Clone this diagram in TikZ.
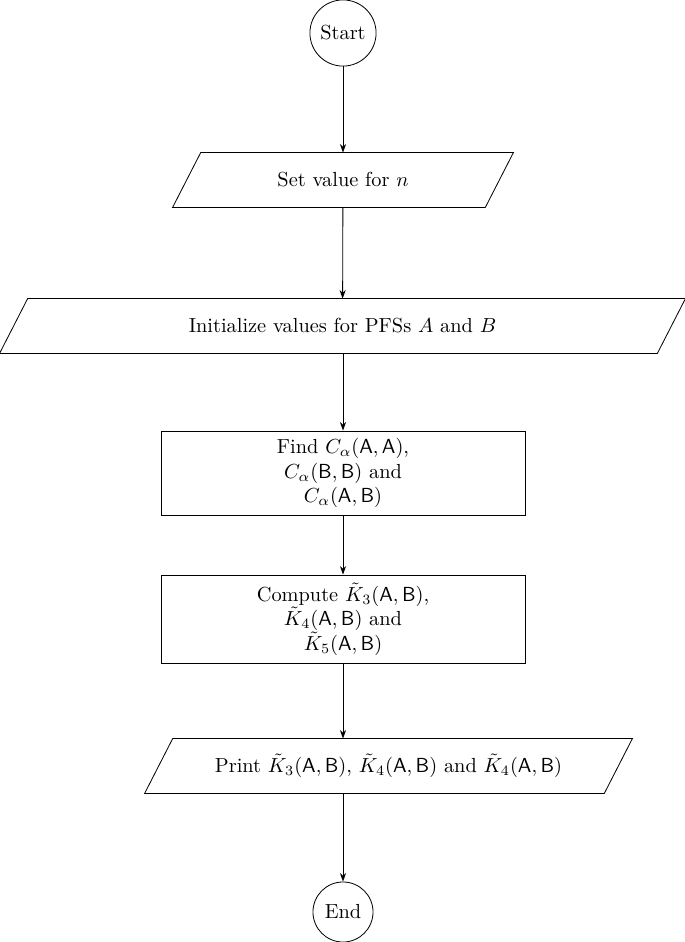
\documentclass[tikz,border=0pt]{standalone}
\usetikzlibrary{arrows.meta}
\newcommand\drawpara[1]{\draw ([xshift=13.8pt]#1.north west) -- (#1.north east) -- ([xshift=-13.8pt]#1.south east) -- (#1.south west) -- cycle;}
\begin{document}
\begin{tikzpicture}[x=0.4912pt,y=-0.4912pt,
  term/.style={draw,circle,inner sep=0pt,align=center},
  io/.style={rectangle,minimum height=26.55pt,inner sep=0pt,align=center},
  proc/.style={draw,rectangle,minimum width=178.8pt,inner sep=0pt,align=center},
  conn/.style={-{Stealth[length=4.2pt,width=3pt]}}]
\useasboundingbox (0,0) rectangle (685,942);
\node[term,minimum size=32.5pt] (start) at (343,33) {Start};
\node[io,minimum width=167pt] (setn) at (343,180) {Set value for $n$};
\node[io,minimum width=336.5pt] (init) at (342.5,326) {Initialize values for PFSs $A$ and $B$};
\node[proc,minimum height=41.3pt] (find) at (343,473) {Find $C_\alpha(\mathsf{A},\mathsf{A})$,\\ $C_\alpha(\mathsf{B},\mathsf{B})$ and\\ $C_\alpha(\mathsf{A},\mathsf{B})$};
\node[proc,minimum height=43.2pt] (comp) at (343,619) {Compute $\tilde{K}_3(\mathsf{A},\mathsf{B})$,\\ $\tilde{K}_4(\mathsf{A},\mathsf{B})$ and\\ $\tilde{K}_5(\mathsf{A},\mathsf{B})$};
\node[io,minimum width=239.2pt] (print) at (388.5,766) {Print $\tilde{K}_3(\mathsf{A},\mathsf{B})$, $\tilde{K}_4(\mathsf{A},\mathsf{B})$ and $\tilde{K}_4(\mathsf{A},\mathsf{B})$};
\node[term,minimum size=29.5pt] (end) at (343,912) {End};
\drawpara{setn}
\drawpara{init}
\drawpara{print}
\draw[conn] (start) -- (setn);
\draw[conn] (setn) -- (init);
\draw[conn] (init.south -| find.north) -- (find);
\draw[conn] (find) -- (comp);
\draw[conn] (comp.south) -- (comp.south |- print.north);
\draw[conn] (comp.south |- print.south) -- (end);
\end{tikzpicture}
\end{document}
